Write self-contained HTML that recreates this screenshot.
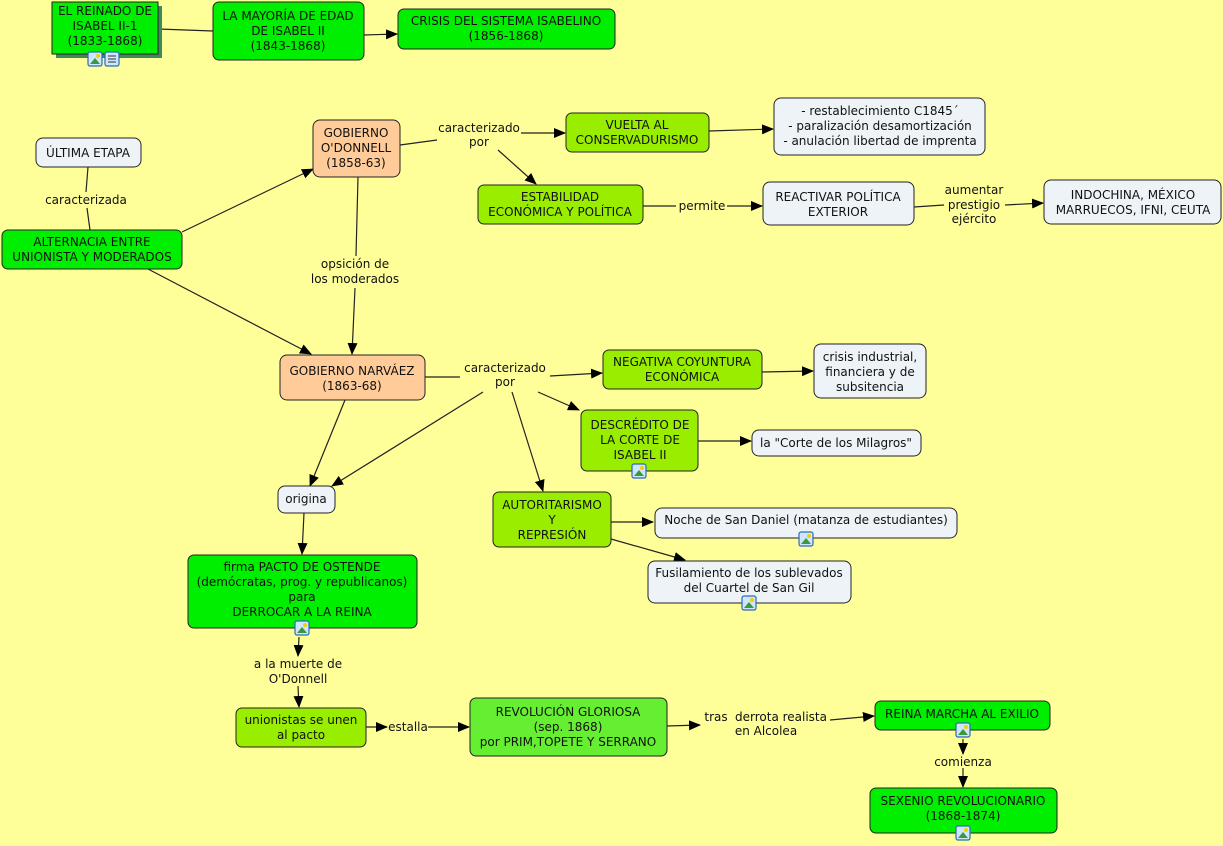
<!DOCTYPE html>
<html><head><meta charset="utf-8"><style>
html,body{margin:0;padding:0;background:#ffff99;}
svg{display:block;font-family:"DejaVu Sans","Liberation Sans",sans-serif;font-size:12px;}
.g{fill:#00ee00;stroke:#222;stroke-width:1}
.y{fill:#99ee00;stroke:#222;stroke-width:1}
.o{fill:#ffcc99;stroke:#222;stroke-width:1}
.l{fill:#eef3f8;stroke:#222;stroke-width:1}
.r{fill:#66ee33;stroke:#222;stroke-width:1}
line,polyline{stroke:#222;stroke-width:1.2;fill:none}
text{fill:#111;text-anchor:middle}
.ic{fill:#cfe6ff;stroke:#2a6bb5;stroke-width:1.2}
.icm{fill:#3a9a3a;stroke:none}
</style></head><body>
<svg width="1223" height="846" viewBox="0 0 1223 846">
<defs>
<marker id="a" markerWidth="12" markerHeight="10" refX="11" refY="5" orient="auto" markerUnits="userSpaceOnUse"><path d="M0,0 L12,5 L0,10 z" fill="#000"/></marker>
<g id="icon"><rect class="ic" x="0" y="0" width="14" height="14" rx="2"/><path class="icm" d="M2,12 L7,6 L12,12 z"/><circle cx="10" cy="4" r="2" fill="#f5d000"/></g>
</defs>
<rect width="1223" height="846" fill="#ffff99"/>

<line x1="158" y1="29" x2="213" y2="31"/>
<line x1="364" y1="35" x2="397" y2="34" marker-end="url(#a)"/>
<line x1="88" y1="167" x2="86" y2="192"/>
<line x1="87" y1="208" x2="90" y2="230"/>
<line x1="182" y1="232" x2="313" y2="169" marker-end="url(#a)"/>
<line x1="148" y1="269" x2="311" y2="354" marker-end="url(#a)"/>
<line x1="358" y1="177" x2="356" y2="256"/>
<line x1="355" y1="288" x2="352" y2="354" marker-end="url(#a)"/>
<line x1="400" y1="145" x2="437" y2="140"/>
<line x1="521" y1="133" x2="565" y2="133" marker-end="url(#a)"/>
<line x1="498" y1="150" x2="536" y2="184" marker-end="url(#a)"/>
<line x1="709" y1="131" x2="773" y2="129" marker-end="url(#a)"/>
<line x1="643" y1="206" x2="676" y2="206"/>
<line x1="727" y1="206" x2="762" y2="206" marker-end="url(#a)"/>
<line x1="914" y1="207" x2="944" y2="205"/>
<line x1="1005" y1="205" x2="1043" y2="203" marker-end="url(#a)"/>
<line x1="425" y1="377" x2="460" y2="377"/>
<line x1="550" y1="376" x2="602" y2="373" marker-end="url(#a)"/>
<line x1="762" y1="372" x2="813" y2="371" marker-end="url(#a)"/>
<line x1="538" y1="392" x2="579" y2="410" marker-end="url(#a)"/>
<line x1="512" y1="392" x2="543" y2="491" marker-end="url(#a)"/>
<line x1="483" y1="392" x2="332" y2="486" marker-end="url(#a)"/>
<line x1="345" y1="400" x2="310" y2="486" marker-end="url(#a)"/>
<line x1="698" y1="441" x2="751" y2="441" marker-end="url(#a)"/>
<line x1="611" y1="522" x2="653" y2="522" marker-end="url(#a)"/>
<line x1="611" y1="539" x2="685" y2="560" marker-end="url(#a)"/>
<line x1="304" y1="513" x2="302" y2="554" marker-end="url(#a)"/>
<line x1="299" y1="637" x2="298" y2="656" marker-end="url(#a)"/>
<line x1="298" y1="686" x2="299" y2="707" marker-end="url(#a)"/>
<line x1="366" y1="727" x2="387" y2="727" marker-end="url(#a)"/>
<line x1="428" y1="727" x2="469" y2="727" marker-end="url(#a)"/>
<line x1="667" y1="726" x2="700" y2="725" marker-end="url(#a)"/>
<line x1="830" y1="720" x2="874" y2="716" marker-end="url(#a)"/>
<line x1="963" y1="739" x2="963" y2="754" marker-end="url(#a)"/>
<line x1="963" y1="768" x2="963" y2="787" marker-end="url(#a)"/>

<rect x="56" y="6" width="106" height="52" fill="#3c8a5a"/>
<rect class="g" x="52" y="2" width="106" height="52"/>
<text x="105" y="15">EL REINADO DE</text><text x="105" y="30">ISABEL II-1</text><text x="105" y="45">(1833-1868)</text>
<use href="#icon" x="88" y="52"/><g transform="translate(105,52)"><rect class="ic" width="14" height="14" rx="2"/><path d="M3,4h8M3,7h8M3,10h8" stroke="#333" stroke-width="1"/></g>

<rect class="g" x="213" y="2" width="151" height="58" rx="6"/>
<text x="288" y="20">LA MAYORÍA DE EDAD</text><text x="288" y="35">DE ISABEL II</text><text x="288" y="50">(1843-1868)</text>

<rect class="g" x="398" y="9" width="217" height="40" rx="6"/>
<text x="506" y="25">CRISIS DEL SISTEMA ISABELINO</text><text x="506" y="40">(1856-1868)</text>

<rect class="l" x="36" y="138" width="105" height="29" rx="7"/>
<text x="88" y="157">ÚLTIMA ETAPA</text>
<text x="86" y="204">caracterizada</text>

<rect class="g" x="2" y="230" width="180" height="39" rx="6"/>
<text x="92" y="246">ALTERNACIA ENTRE</text><text x="92" y="261">UNIONISTA Y MODERADOS</text>

<rect class="o" x="313" y="120" width="87" height="57" rx="7"/>
<text x="356" y="137">GOBIERNO</text><text x="356" y="152">O'DONNELL</text><text x="356" y="167">(1858-63)</text>

<text x="479" y="132">caracterizado</text><text x="479" y="146">por</text>

<rect class="y" x="566" y="113" width="143" height="39" rx="6"/>
<text x="637" y="129">VUELTA AL</text><text x="637" y="144">CONSERVADURISMO</text>

<rect class="l" x="774" y="98" width="211" height="57" rx="7"/>
<text x="880" y="115">- restablecimiento C1845´</text><text x="880" y="130">- paralización desamortización</text><text x="880" y="145">- anulación libertad de imprenta</text>

<rect class="y" x="478" y="185" width="165" height="39" rx="6"/>
<text x="560" y="201">ESTABILIDAD</text><text x="560" y="216">ECONÓMICA Y POLÍTICA</text>
<text x="702" y="210">permite</text>

<rect class="l" x="763" y="182" width="151" height="43" rx="7"/>
<text x="838" y="201">REACTIVAR POLÍTICA</text><text x="838" y="216">EXTERIOR</text>

<text x="974" y="194">aumentar</text><text x="974" y="209">prestigio</text><text x="974" y="223">ejército</text>

<rect class="l" x="1044" y="180" width="177" height="44" rx="7"/>
<text x="1133" y="199">INDOCHINA, MÉXICO</text><text x="1133" y="214">MARRUECOS, IFNI, CEUTA</text>

<text x="355" y="268">opsición de</text><text x="355" y="283">los moderados</text>

<rect class="o" x="280" y="355" width="145" height="45" rx="7"/>
<text x="352" y="375">GOBIERNO NARVÁEZ</text><text x="352" y="390">(1863-68)</text>

<text x="505" y="372">caracterizado</text><text x="505" y="386">por</text>

<rect class="y" x="603" y="350" width="159" height="39" rx="6"/>
<text x="682" y="366">NEGATIVA COYUNTURA</text><text x="682" y="381">ECONÓMICA</text>

<rect class="l" x="814" y="344" width="112" height="54" rx="7"/>
<text x="870" y="361">crisis industrial,</text><text x="870" y="376">financiera y de</text><text x="870" y="391">subsitencia</text>

<rect class="y" x="581" y="410" width="117" height="61" rx="6"/>
<text x="640" y="429">DESCRÉDITO DE</text><text x="640" y="444">LA CORTE DE</text><text x="640" y="459">ISABEL II</text>
<use href="#icon" x="632" y="464"/>

<rect class="l" x="752" y="430" width="169" height="26" rx="7"/>
<text x="836" y="447">la "Corte de los Milagros"</text>

<rect class="y" x="493" y="492" width="118" height="55" rx="6"/>
<text x="552" y="509">AUTORITARISMO</text><text x="552" y="524">Y</text><text x="552" y="539">REPRESIÓN</text>

<rect class="l" x="655" y="508" width="302" height="30" rx="7"/>
<text x="806" y="524">Noche de San Daniel (matanza de estudiantes)</text>
<use href="#icon" x="799" y="532"/>

<rect class="l" x="648" y="561" width="203" height="42" rx="7"/>
<text x="749" y="577">Fusilamiento de los sublevados</text><text x="749" y="592">del Cuartel de San Gil</text>
<use href="#icon" x="742" y="596"/>

<rect class="l" x="278" y="486" width="57" height="27" rx="7"/>
<text x="306" y="503">origina</text>

<rect class="g" x="188" y="555" width="229" height="73" rx="6"/>
<text x="302" y="571">firma PACTO DE OSTENDE</text><text x="302" y="586">(demócratas, prog. y republicanos)</text><text x="302" y="601">para</text><text x="302" y="616">DERROCAR A LA REINA</text>
<use href="#icon" x="295" y="621"/>

<text x="298" y="668">a la muerte de</text><text x="298" y="683">O'Donnell</text>

<rect class="y" x="236" y="708" width="130" height="39" rx="6"/>
<text x="301" y="724">unionistas se unen</text><text x="301" y="739">al pacto</text>
<text x="408" y="731">estalla</text>

<rect class="r" x="470" y="698" width="197" height="58" rx="6"/>
<text x="568" y="716">REVOLUCIÓN GLORIOSA</text><text x="568" y="731">(sep. 1868)</text><text x="568" y="746">por PRIM,TOPETE Y SERRANO</text>

<text x="716" y="721">tras</text><text x="781" y="721">derrota realista</text><text x="766" y="735">en Alcolea</text>

<rect class="g" x="875" y="701" width="175" height="29" rx="6"/>
<text x="962" y="718">REINA MARCHA AL EXILIO</text>
<use href="#icon" x="956" y="723"/>
<text x="963" y="766">comienza</text>

<rect class="g" x="870" y="788" width="187" height="45" rx="6"/>
<text x="963" y="805">SEXENIO REVOLUCIONARIO</text><text x="963" y="820">(1868-1874)</text>
<use href="#icon" x="956" y="826"/>
</svg>
</body></html>
